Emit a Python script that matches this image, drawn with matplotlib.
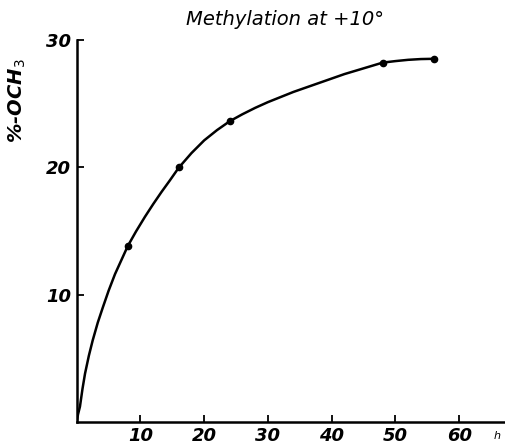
import matplotlib.pyplot as plt

# measured points (hours, % OCH3)
t_pts = [8, 16, 24, 48, 56]
och3_pts = [13.8, 20.0, 23.6, 28.2, 28.5]

# hand drawn curve
curve_t = [0, 0.2, 0.5, 0.9, 1.3, 1.9, 2.5, 3.3, 4.1, 5.0, 6.0, 7.0, 8.0, 9.3, 10.7, 12.0,
           13.3, 14.6, 16.0, 18.0, 20.0, 22.0, 24.0, 26.0, 28.0, 30.0, 32.0, 34.0, 36.0,
           38.0, 40.0, 42.0, 44.0, 46.0, 48.0, 50.0, 52.0, 54.0, 56.0]
curve_y = [0, 0.6, 1.2, 2.6, 3.8, 5.2, 6.4, 7.8, 9.0, 10.3, 11.6, 12.7, 13.8, 14.95, 16.1, 17.1,
           18.05, 18.95, 19.95, 21.1, 22.1, 22.9, 23.6, 24.15, 24.65, 25.1, 25.5, 25.9, 26.25,
           26.6, 26.95, 27.3, 27.6, 27.9, 28.2, 28.32, 28.42, 28.48, 28.5]

xticks = [10, 20, 30, 40, 50, 60]
yticks = [10, 20, 30]

fig = plt.figure(figsize=(5.05, 4.46), dpi=100)
ax = fig.add_axes([0.152, 0.054, 0.848, 0.857])
ax.plot(curve_t, curve_y, color='black', lw=1.8, solid_capstyle='round', solid_joinstyle='round')
ax.plot(t_pts, och3_pts, 'o', color='black', ms=4.5)

ax.set_xlim(0, 67.2)
ax.set_ylim(0, 30)
for s in ['top', 'right']:
    ax.spines[s].set_visible(False)
for s in ['left', 'bottom']:
    ax.spines[s].set_linewidth(1.8)
ax.set_xticks(xticks)
ax.set_yticks(yticks)
ax.tick_params(direction='in', length=5, width=1.3, pad=4)
for lab in ax.get_xticklabels() + ax.get_yticklabels():
    lab.set_fontstyle('italic')
    lab.set_fontweight('bold')
    lab.set_fontsize(13)

ax.set_ylabel('%-OCH$_3$', fontsize=14, fontstyle='italic', fontweight='bold')
ax.yaxis.set_label_coords(-0.115, 0.84)
fig.text(0.565, 0.957, 'Methylation at +10°', ha='center', va='center',
         fontsize=14, fontstyle='italic')
fig.text(0.985, 0.022, 'h', ha='center', va='center', fontsize=8, fontstyle='italic')

plt.savefig('out.png')
